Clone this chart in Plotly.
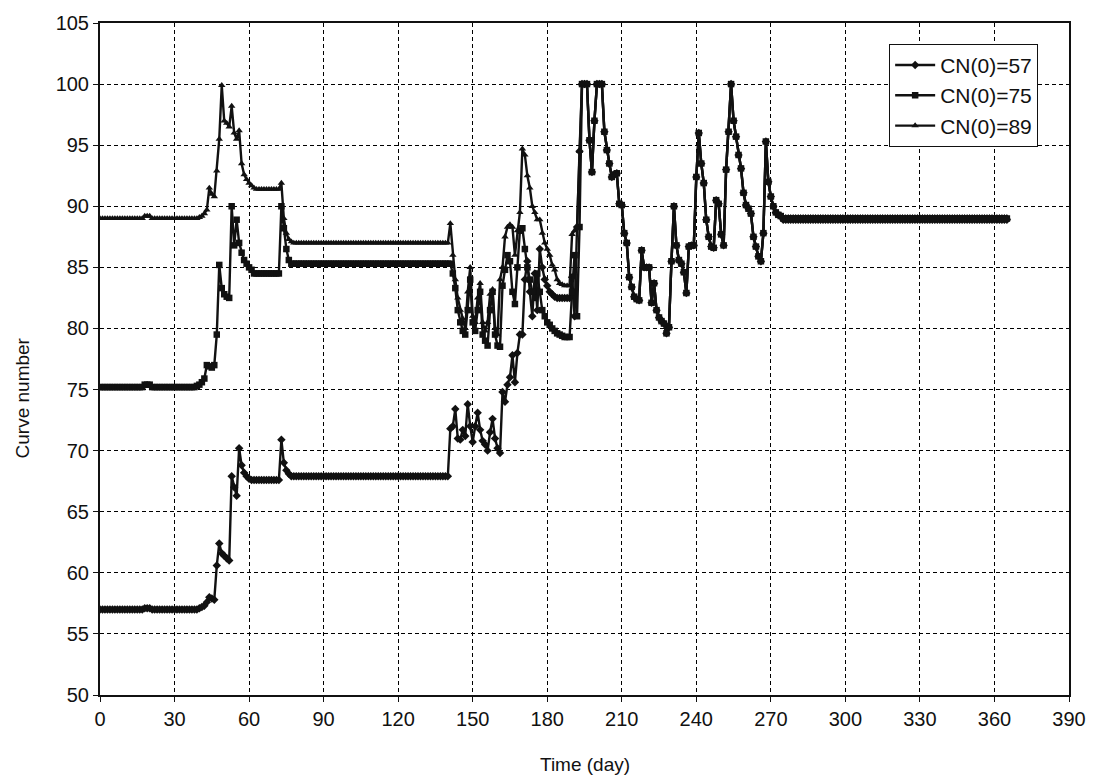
import plotly.graph_objects as go

# Daily curve-number series, day 0 .. 365.
# A tuple (value, n) is a run of n days at the same value; a list holds day-by-day values.
cn57_parts = [
    (57.0, 18), (57.1, 3), (57.0, 19),
    [57.1, 57.2, 57.3, 57.6, 58.0, 57.9, 57.8],
    [60.6, 62.4, 61.6, 61.4, 61.2, 61.0, 67.9, 67.0, 66.3, 70.2, 68.8, 68.2, 67.9, 67.7],
    (67.6, 12),
    [70.9, 69.0, 68.4, 68.1],
    (67.9, 64),
    [71.8, 72.0, 73.4, 71.0, 70.9, 71.7, 71.2, 73.8, 72.0, 70.7, 72.0, 73.1, 71.7, 70.8,
     70.5, 70.0, 71.5, 72.6, 71.0, 70.2, 69.8],
    [74.8, 74.0, 75.4, 76.0, 77.8, 75.6, 78.0, 79.5, 79.5, 84.0, 85.5, 83.0, 81.0, 84.5,
     81.5, 86.5, 85.0, 84.0, 83.5, 83.0, 82.8, 82.6],
    (82.5, 6),
    [84.2, 81.0, 88.3, 94.5],
]
cn75_parts = [
    (75.2, 18), (75.4, 3), (75.2, 18),
    [75.3, 75.4, 75.6, 75.9, 77.0, 76.9, 76.8, 77.0],
    [79.5, 85.2, 83.3, 82.8, 82.6, 82.5, 90.0, 86.8, 88.9, 87.0, 86.2, 85.6, 85.3, 85.0, 84.8],
    (84.5, 11),
    [90.0, 88.2, 86.5, 85.6],
    (85.3, 64),
    [85.3, 84.5, 83.3, 81.5, 80.5, 79.8, 79.5, 81.5, 84.0, 80.5, 79.8, 81.5, 83.0, 79.5,
     79.0, 78.6, 81.5, 83.0, 79.5, 78.6, 78.5],
    [83.5, 84.8, 86.0, 85.5, 83.0, 82.0, 85.0, 88.0, 88.2, 86.5, 85.0, 84.0, 83.0, 82.5,
     84.5, 83.0, 81.5, 81.0, 80.5, 80.3, 80.0, 79.8],
    [79.6, 79.5, 79.4, 79.3, 79.3, 79.3],
    [83.0, 86.0, 81.0, 88.3],
]
cn89_parts = [
    (89.0, 18), (89.2, 3), (89.0, 19),
    [89.1, 89.2, 89.4, 89.7, 91.5, 91.0, 90.8],
    [92.9, 95.5, 99.9, 97.0, 96.8, 96.5, 98.2, 96.0, 95.5, 96.2, 93.5, 92.6, 92.2, 91.9,
     91.7, 91.5],
    (91.4, 10),
    [91.9, 89.0, 87.8, 87.3, 87.1],
    (87.0, 63),
    [88.6, 86.0, 84.0, 82.5, 81.5, 80.8, 80.0, 83.0, 85.0, 81.0, 80.5, 82.5, 83.7, 80.5,
     79.8, 80.5, 82.8, 83.2, 80.0, 79.5, 84.0],
    [85.0, 87.5, 88.3, 88.5, 88.3, 86.0, 88.0, 89.5, 94.7, 94.2, 92.5, 91.5, 90.0, 89.5,
     88.9, 88.9, 87.8, 87.0, 86.5, 86.0, 85.2, 84.8],
    [84.0, 83.7, 83.6, 83.5, 83.5, 83.5],
    [87.7, 88.0, 88.3, 94.5],
]
# Days 194-274: the three runs coincide
shared_days_194_274 = [
    100.0, 100.0, 100.0, 95.4, 92.8, 97.0, 100.0, 100.0, 100.0, 96.1,
    94.6, 93.5, 92.4, 92.6, 92.7, 90.2, 90.1, 87.8, 87.0, 84.2,
    83.4, 82.6, 82.4, 82.3, 86.4, 85.0, 85.0, 85.0, 82.1, 83.7,
    81.5, 80.9, 80.6, 80.4, 79.6, 80.1, 85.5, 90.0, 86.8, 85.6,
    85.3, 84.6, 82.9, 86.7, 86.8, 86.8, 92.4, 96.0, 93.5, 91.9,
    88.9, 87.5, 86.7, 86.6, 90.5, 90.2, 87.7, 86.8, 93.0, 96.1,
    100.0, 97.0, 95.7, 94.2, 93.1, 91.1, 90.1, 89.8, 89.4, 87.5,
    86.7, 85.9, 85.5, 87.8, 95.3, 92.0, 90.8, 90.0, 89.5, 89.3, 89.2,
]
# Final level, days 275-365
tail_levels = {"CN(0)=57": 88.9, "CN(0)=75": 89.0, "CN(0)=89": 89.1}
tail_days = 91

x_ticks = list(range(0, 391, 30))
y_ticks = list(range(50, 106, 5))


def expand(parts):
    out = []
    for p in parts:
        if isinstance(p, tuple):
            out.extend([p[0]] * p[1])
        else:
            out.extend(p)
    return out


series = [
    ("CN(0)=57", cn57_parts, "diamond"),
    ("CN(0)=75", cn75_parts, "square"),
    ("CN(0)=89", cn89_parts, "triangle-up"),
]

FONT = "Liberation Sans, Arial, sans-serif"
INK = "#111111"

fig = go.Figure()
for name, parts, symbol in series:
    values = expand(parts) + shared_days_194_274 + [tail_levels[name]] * tail_days
    days = list(range(len(values)))
    fig.add_trace(go.Scatter(
        x=days, y=values, name=name, mode="lines+markers",
        line=dict(color=INK, width=2.4),
        marker=dict(symbol=symbol, size=6.5, color=INK),
    ))

grid = dict(showgrid=True, gridcolor="#000000", gridwidth=1, griddash="4px,3px")
fig.update_xaxes(
    range=[0, 390], tickvals=x_ticks, ticks="outside", ticklen=5, tickcolor=INK,
    showline=True, linecolor=INK, linewidth=2, mirror=True, zeroline=False,
    tickfont=dict(family=FONT, size=20, color=INK),
    **grid,
)
fig.update_yaxes(
    range=[50, 105], tickvals=y_ticks, ticks="outside", ticklen=5, tickcolor=INK,
    showline=True, linecolor=INK, linewidth=2, mirror=True, zeroline=False,
    tickfont=dict(family=FONT, size=20, color=INK),
    **grid,
)

# Axis titles
fig.add_annotation(
    text="Time (day)", xref="paper", yref="paper", x=0.5, y=-0.104,
    xanchor="center", yanchor="middle", showarrow=False,
    font=dict(family=FONT, size=19, color=INK),
)
fig.add_annotation(
    text="Curve number", xref="paper", yref="paper", x=-0.08, y=0.442,
    xanchor="center", yanchor="middle", textangle=-90, showarrow=False,
    font=dict(family=FONT, size=19, color=INK),
)

fig.update_layout(
    width=1098, height=784,
    margin=dict(l=100, r=23, t=23, b=89),
    paper_bgcolor="white", plot_bgcolor="white",
    font=dict(family=FONT, color=INK),
    legend=dict(
        x=0.8144, y=0.969, xanchor="left", yanchor="top",
        bgcolor="white", bordercolor=INK, borderwidth=1,
        font=dict(family=FONT, size=21, color=INK),
        tracegroupgap=0, itemwidth=40,
    ),
    showlegend=True,
)

fig.write_html("out.html")
